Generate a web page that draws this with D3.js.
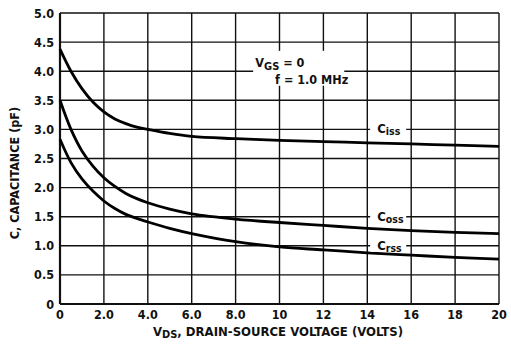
<!DOCTYPE html>
<html><head><meta charset="utf-8">
<script src="https://cdn.jsdelivr.net/npm/d3@7"></script>
<style>
html,body{margin:0;padding:0;background:#fff;}
svg text{font-family:"Liberation Sans Narrow","DejaVu Sans Condensed","Arial Narrow",sans-serif;font-weight:bold;fill:#111;}
</style></head><body>
<svg id="c" width="511" height="344"></svg>
<script>
const xTicks = [0,2,4,6,8,10,12,14,16,18,20];
const xTickLabels = ["0","2.0","4.0","6.0","8.0","10","12","14","16","18","20"];
const yTicks = [0,0.5,1,1.5,2,2.5,3,3.5,4,4.5,5];
const yTickLabels = ["0","0.5","1.0","1.5","2.0","2.5","3.0","3.5","4.0","4.5","5.0"];

const vds  = [0,0.5,1,1.5,2,2.5,3,3.5,4,5,6,8,10,12,14,16,18,20];
const ciss = [4.38,4.00,3.70,3.47,3.30,3.18,3.10,3.04,3.00,2.93,2.88,2.84,2.81,2.79,2.77,2.75,2.73,2.71];
const coss = [3.50,3.00,2.63,2.37,2.17,2.02,1.90,1.81,1.74,1.63,1.55,1.46,1.40,1.35,1.30,1.26,1.23,1.21];
const crss = [2.83,2.43,2.15,1.94,1.77,1.64,1.54,1.47,1.41,1.30,1.21,1.07,0.98,0.93,0.88,0.84,0.80,0.77];

const series = [
  {name:"C", sub:"iss", values:ciss, labelY:3.0},
  {name:"C", sub:"oss", values:coss, labelY:1.5},
  {name:"C", sub:"rss", values:crss, labelY:1.0}
];
const labelV = 14.45;

const svg = d3.select("#c");
const x = d3.scaleLinear().domain([0,20]).range([60,499]);
const y = d3.scaleLinear().domain([0,5]).range([304,13]);

// grid
const g = svg.append("g");
g.selectAll("line.h").data(yTicks).enter().append("line")
  .attr("x1",x(0)).attr("x2",x(20)).attr("y1",d=>y(d)).attr("y2",d=>y(d))
  .attr("stroke","#111").attr("stroke-width",1.4);
g.selectAll("line.v").data(xTicks).enter().append("line")
  .attr("y1",y(0)).attr("y2",y(5)).attr("x1",d=>x(d)).attr("x2",d=>x(d))
  .attr("stroke","#111").attr("stroke-width",1.4);
// frame emphasis
svg.append("line").attr("x1",x(0)).attr("x2",x(0)).attr("y1",y(0)).attr("y2",y(5)).attr("stroke","#111").attr("stroke-width",2.2);
svg.append("line").attr("x1",x(0)).attr("x2",x(20)).attr("y1",y(0)).attr("y2",y(0)).attr("stroke","#111").attr("stroke-width",2);

// condition box (white knockout)
svg.append("rect").attr("x",x(8.8)).attr("y",y(4.35)).attr("width",x(12.95)-x(8.8)).attr("height",y(3.75)-y(4.35)).attr("fill","#fff");
const cond = svg.append("text").attr("x",x(8.9)).attr("y",y(4.0)-4).attr("font-size",12.5);
cond.append("tspan").text("V");
cond.append("tspan").attr("dy",3).attr("font-size",11).text("GS");
cond.append("tspan").attr("dy",-3).text(" = 0");
svg.append("text").attr("x",x(9.8)).attr("y",y(4.0)+13).attr("font-size",12.5).text("f = 1.0 MHz");

// curves
const line = d3.line().x((d,i)=>x(vds[i])).y(d=>y(d)).curve(d3.curveCatmullRom.alpha(0.5));
svg.selectAll("path.curve").data(series).enter().append("path")
  .attr("d",d=>line(d.values)).attr("fill","none").attr("stroke","#000").attr("stroke-width",2.8);

// series labels with knockout
series.forEach(s=>{
  svg.append("rect").attr("x",x(labelV)-7).attr("y",y(s.labelY)-7).attr("width",36).attr("height",13).attr("fill","#fff");
  const t = svg.append("text").attr("x",x(labelV)).attr("y",y(s.labelY)+4).attr("font-size",13);
  t.append("tspan").text(s.name);
  t.append("tspan").attr("dy",2).attr("font-size",10.5).text(s.sub);
});

// tick labels
svg.selectAll("text.xt").data(xTicks).enter().append("text")
  .attr("x",d=>x(d)).attr("y",319).attr("text-anchor","middle").attr("font-size",12.5)
  .text((d,i)=>xTickLabels[i]);
svg.selectAll("text.yt").data(yTicks).enter().append("text")
  .attr("x",54).attr("y",d=>y(d)+4.5).attr("text-anchor","end").attr("font-size",12.5)
  .text((d,i)=>yTickLabels[i]);

// axis titles
const xt = svg.append("text").attr("x",278).attr("y",336).attr("text-anchor","middle").attr("font-size",13);
xt.append("tspan").text("V");
xt.append("tspan").attr("dy",2).attr("font-size",11).text("DS");
xt.append("tspan").attr("dy",-2).text(", DRAIN-SOURCE VOLTAGE (VOLTS)");

svg.append("text").attr("transform","translate(19,173) rotate(-90)").attr("text-anchor","middle").attr("font-size",12.5)
  .text("C, CAPACITANCE (pF)");
</script>
</body></html>
